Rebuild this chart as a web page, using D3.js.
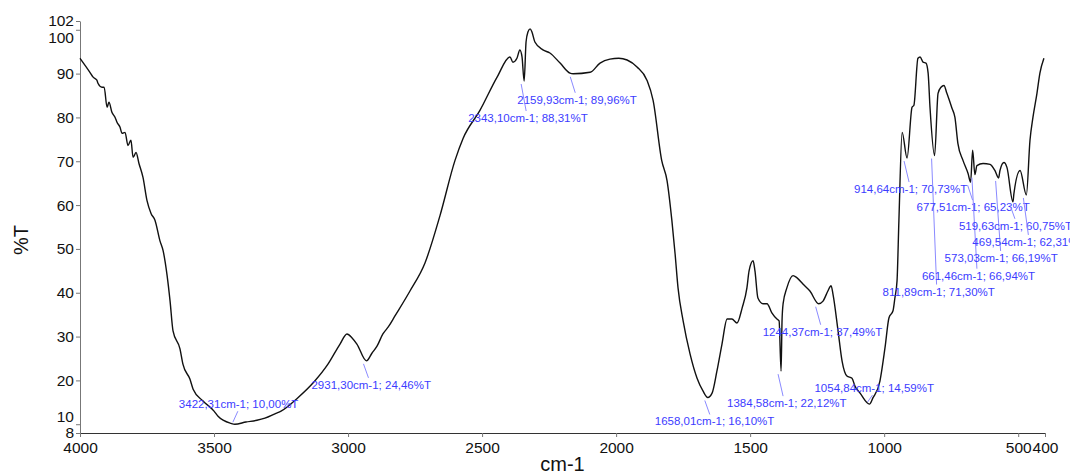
<!DOCTYPE html>
<html>
<head>
<meta charset="utf-8">
<script src="https://cdn.jsdelivr.net/npm/d3@7"></script>
<style>
  html, body { margin: 0; padding: 0; background: #fff; }
  svg { display: block; font-family: "Liberation Sans", Arial, Helvetica, sans-serif; }
</style>
</head>
<body>
<svg id="chart" width="1088" height="474"></svg>
<script>
// spectrum (cm-1, %T)
const wavenumbers = [4000,3963,3951,3937,3933,3918,3910,3899,3892,3881,
  3869,3862,3851,3843,3832,3821,3810,3802,3791,3780,
  3765,3750,3735,3720,3702,3690,3675,3664,3653,3627,
  3616,3590,3578,3541,3500,3485,3437,3422.31,3381,3340,
  3310,3269,3250,3188,3125,3075,3030,3004,2985,2967,
  2931.3,2911,2892,2870,2850,2825,2769,2713,2657,2601,
  2571,2508,2444,2396,2385,2370,2359,2351,2343.1,2336,
  2329,2321,2314,2303,2273,2247,2209,2172,2159.93,2097,
  2060,2023,1990,1959,1922,1885,1862,1830,1810,1792,
  1780,1769,1750,1724,1698,1676,1658.01,1642,1624,1605,
  1586,1568,1549,1530,1512,1504,1489,1482,1471,1452,
  1437,1419,1400,1392,1384.58,1381,1377,1363,1340,1325,
  1303,1277,1244.37,1228,1210,1198,1191,1172,1157,1139,
  1120,1109,1090,1054.84,1042,1016,997,982,967,960,
  952,945,933,914.64,896,889,874,866,855,844,
  836,829,811.89,799,788,777,766,747,736,725,
  706,687,677.51,670,661.46,654,631,605,587,573.03,
  568,553,542,519.63,516,493,469.54,456,445,430,
  419,404];

const transmittance = [93.5,90.3,89.2,88.5,87.8,86.9,86.9,82.3,83.5,81.2,
  80.0,78.9,77.8,76.4,76.6,73.6,74.8,70.9,72.0,69.5,
  66.3,61.0,58.1,56.5,51.9,49.6,43.9,38.1,31.3,27.2,
  23.7,20.3,18.0,15.3,13.0,11.8,10.2,10.00,10.5,10.9,
  11.4,12.5,13.0,16.0,19.8,23.7,28.3,30.6,29.7,28.3,
  24.46,26.2,27.8,30.6,32.2,34.7,40.4,46.8,57.6,70.2,
  75.2,81.6,89.2,93.8,92.6,93.5,95.4,93.8,88.31,97.2,
  99.5,100.2,99.5,97.2,95.4,94.7,92.4,90.1,89.96,90.3,
  92.4,93.3,93.5,93.1,91.5,88.5,83.9,70.2,65.6,56.5,
  48.9,41.1,33.6,26.0,20.5,17.6,16.10,17.1,22.1,28.3,
  34.0,34.0,33.1,36.5,41.1,45.0,47.3,45.0,38.8,37.5,
  37.5,35.4,34.0,33.6,22.12,33.6,37.5,41.1,43.9,43.4,
  42.0,40.4,37.49,38.1,40.4,41.6,39.7,31.3,24.4,21.0,
  20.5,18.7,17.1,14.59,16.0,19.8,27.4,34.3,35.9,38.8,
  42.7,56.5,76.6,70.73,82.3,82.8,93.5,93.8,92.6,92.4,
  90.1,82.3,71.30,85.5,86.9,87.3,85.5,82.1,80.0,74.1,
  70.2,67.2,65.23,72.5,66.94,69.0,69.5,69.3,67.9,66.19,
  67.9,69.7,68.6,60.75,62.6,67.9,62.31,74.8,80.0,85.5,
  90.1,93.5];

// picked peaks
const peakWavenumbers = [3422.31, 2931.30, 2343.10, 2159.93, 1658.01, 1384.58, 1244.37,
  1054.84, 914.64, 811.89, 677.51, 661.46, 573.03, 519.63, 469.54];
const peakTransmittance = [10.00, 24.46, 88.31, 89.96, 16.10, 22.12, 37.49,
  14.59, 70.73, 71.30, 65.23, 66.94, 66.19, 60.75, 62.31];

const xTicks = [4000, 3500, 3000, 2500, 2000, 1500, 1000, 500, 400];
const yTicks = [8, 10, 20, 30, 40, 50, 60, 70, 80, 90, 100, 102];

// label placement (layout only): text start dx, baseline dy from the peak
const labelOffsets = [[-56, -16], [-55, 28], [-56, 41], [-56, 30], [-53, 28],
  [-54, 36], [-56, 32], [-55, -12], [-53, 35], [-52, 140], [-54, 29],
  [-53, 105], [-54, 84], [-54, 28], [-54, 51]];

const width = 1088, height = 474;
const margin = { left: 80, right: 43, top: 21, bottom: 41 };

const svg = d3.select("#chart");
svg.append("rect").attr("width", width).attr("height", height).attr("fill", "#fff");

const x = d3.scaleLinear().domain([4000, 400]).range([margin.left, width - margin.right]);
const y = d3.scaleLinear().domain([8, 102]).range([height - margin.bottom, margin.top]);

const comma = v => v.toFixed(2).replace(".", ",");

// axes
const yAxis = svg.append("g")
  .attr("transform", `translate(${margin.left},0)`)
  .call(d3.axisLeft(y).tickValues(yTicks).tickFormat(d3.format("d"))
    .tickSize(4).tickSizeOuter(0).tickPadding(2));
yAxis.select(".domain").attr("stroke", "#777");
yAxis.selectAll(".tick line").attr("stroke", "#777");
yAxis.selectAll("text").attr("font-size", 15.5).attr("fill", "#111")
  .attr("font-family", "Liberation Sans, Arial, sans-serif");
// crowded end labels are nudged apart, as in the original
yAxis.selectAll(".tick").filter(d => d === 100).select("text").attr("dy", "0.85em");
yAxis.selectAll(".tick").filter(d => d === 10).select("text").attr("dy", "-0.18em");
yAxis.selectAll(".tick").filter(d => d === 8).select("text").attr("dy", "0.28em");

const xAxis = svg.append("g")
  .attr("transform", `translate(0,${height - margin.bottom})`)
  .call(d3.axisBottom(x).tickValues(xTicks).tickFormat(d3.format("d"))
    .tickSize(4).tickSizeOuter(0).tickPadding(5));
xAxis.select(".domain").attr("stroke", "#333");
xAxis.selectAll(".tick line").attr("stroke", "#777");
xAxis.selectAll("text").attr("font-size", 15.5).attr("fill", "#111")
  .attr("font-family", "Liberation Sans, Arial, sans-serif");

// axis titles
svg.append("text")
  .attr("x", (margin.left + width - margin.right) / 2)
  .attr("y", 471)
  .attr("text-anchor", "middle")
  .attr("font-size", 20)
  .attr("fill", "#111")
  .text("cm-1");

svg.append("text")
  .attr("transform", "translate(28,240) rotate(-90)")
  .attr("text-anchor", "middle")
  .attr("font-size", 20)
  .attr("fill", "#111")
  .text("%T");

// spectrum
const points = wavenumbers.map((w, i) => [w, transmittance[i]]);
const line = d3.line()
  .x(d => x(d[0]))
  .y(d => y(d[1]))
  .curve(d3.curveMonotoneX);

svg.append("path")
  .datum(points)
  .attr("fill", "none")
  .attr("stroke", "#111")
  .attr("stroke-width", 1.4)
  .attr("stroke-linejoin", "round")
  .attr("d", line);

// peak labels
svg.append("clipPath").attr("id", "label-clip")
  .append("rect").attr("x", 0).attr("y", 0).attr("width", 1070).attr("height", height);

const peaks = peakWavenumbers.map((w, i) => ({
  wn: w,
  t: peakTransmittance[i],
  dx: labelOffsets[i][0],
  dy: labelOffsets[i][1]
}));

const labels = svg.append("g").attr("clip-path", "url(#label-clip)")
  .selectAll("g")
  .data(peaks)
  .join("g");

labels.append("line")
  .attr("stroke", "#8a8aff")
  .attr("stroke-width", 1)
  .each(function(d) {
    const px = x(d.wn), py = y(d.t);
    const above = d.dy < 0;
    d3.select(this)
      .attr("x1", above ? px - 2 : px - 3)
      .attr("y1", above ? py - 2 : py + 3)
      .attr("x2", above ? px + 3 : px + 2)
      .attr("y2", above ? py + d.dy + 3 : py + d.dy - 11);
  });

labels.append("text")
  .attr("x", d => x(d.wn) + d.dx)
  .attr("y", d => y(d.t) + d.dy)
  .attr("font-size", 11.5)
  .attr("fill", "#3c3cff")
  .text(d => `${comma(d.wn)}cm-1; ${comma(d.t)}%T`);
</script>
</body>
</html>
